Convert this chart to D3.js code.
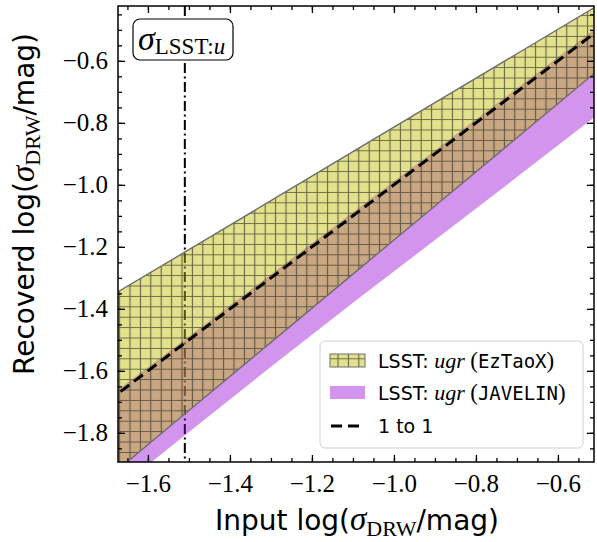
<!DOCTYPE html>
<html>
<head>
<meta charset="utf-8">
<script src="https://cdn.jsdelivr.net/npm/d3@7"></script>
<style>
  body { margin: 0; background: #fff; }
  text { fill: #000; }
</style>
</head>
<body>
<svg id="chart" width="597" height="542"></svg>
<script>
// values
const xGrid = [-1.7, -1.5, -1.3, -1.1, -0.9, -0.7, -0.5];
const eztaoUpper = [-1.366, -1.209, -1.051, -0.893, -0.735, -0.577, -0.419];
const eztaoLower = [-1.948, -1.728, -1.508, -1.288, -1.068, -0.848, -0.628];
const javelinUpper = [-1.688, -1.488, -1.288, -1.088, -0.888, -0.688, -0.488];
const javelinLower = [-2.010, -1.797, -1.587, -1.380, -1.178, -0.975, -0.770];
const oneToOne = [-1.7, -0.5];
const sigmaLsstU = -1.51;
const xTicks = [-1.6, -1.4, -1.2, -1.0, -0.8, -0.6];
const yTicks = [-1.8, -1.6, -1.4, -1.2, -1.0, -0.8, -0.6];

const svg = d3.select('#chart');
const pLeft = 118, pRight = 594, pTop = 6, pBottom = 462;

const x = d3.scaleLinear().domain([-1.673, -0.512]).range([pLeft, pRight]);
const y = d3.scaleLinear().domain([-1.894, -0.423]).range([pBottom, pTop]);

const defs = svg.append('defs');
defs.append('clipPath').attr('id', 'plotclip')
  .append('rect')
  .attr('x', pLeft).attr('y', pTop)
  .attr('width', pRight - pLeft).attr('height', pBottom - pTop);

const hatch = defs.append('pattern')
  .attr('id', 'hatch')
  .attr('patternUnits', 'userSpaceOnUse')
  .attr('width', 10.4).attr('height', 10.4);
hatch.append('path')
  .attr('d', 'M5.2,0V10.4M0,5.2H10.4')
  .attr('stroke', '#3a3a30')
  .attr('stroke-opacity', 0.72)
  .attr('stroke-width', 1.15);

const band = (lo, hi) => d3.area()
  .x((d, i) => x(xGrid[i]))
  .y0((d, i) => y(lo[i]))
  .y1((d, i) => y(hi[i]))(xGrid);

const plot = svg.append('g').attr('clip-path', 'url(#plotclip)');

// vertical sigma line (under the bands)
plot.append('line')
  .attr('x1', x(sigmaLsstU)).attr('x2', x(sigmaLsstU))
  .attr('y1', pTop).attr('y2', pBottom)
  .attr('stroke', '#000')
  .attr('stroke-width', 2)
  .attr('stroke-dasharray', '10,3.5,2,3.5');

// JAVELIN band
plot.append('path')
  .attr('d', band(javelinLower, javelinUpper))
  .attr('fill', 'darkviolet')
  .attr('fill-opacity', 0.42);

// EzTaoX band
plot.append('path')
  .attr('d', band(eztaoLower, eztaoUpper))
  .attr('fill', '#bfbf00')
  .attr('fill-opacity', 0.45);
plot.append('path')
  .attr('d', band(eztaoLower, eztaoUpper))
  .attr('fill', 'url(#hatch)');
plot.append('path')
  .attr('d', band(eztaoLower, eztaoUpper))
  .attr('fill', 'none')
  .attr('stroke', '#6e6e6e')
  .attr('stroke-width', 1.4);

// 1 to 1 line
plot.append('line')
  .attr('x1', x(oneToOne[0])).attr('y1', y(oneToOne[0]))
  .attr('x2', x(oneToOne[1])).attr('y2', y(oneToOne[1]))
  .attr('stroke', '#000')
  .attr('stroke-width', 3)
  .attr('stroke-dasharray', '11,6');

// axes
const fmt = d3.format('.1f');
const xMinor = d3.range(-33, -10).map(d => d * 0.05).filter(d => d >= -1.673 && d <= -0.512);
const yMinor = d3.range(-37, -8).map(d => d * 0.05).filter(d => d >= -1.894 && d <= -0.423);

function styleTicks(g) {
  g.select('.domain').remove();
  g.selectAll('line').attr('stroke', '#000').attr('stroke-width', 1.3);
  g.selectAll('text')
    .style('font-family', '"Liberation Serif", serif')
    .style('font-size', '25px');
}

svg.append('g').attr('transform', `translate(0,${pBottom})`)
  .call(d3.axisBottom(x).tickValues(xTicks).tickSize(-7).tickPadding(12).tickFormat(fmt))
  .call(styleTicks);
svg.append('g').attr('transform', `translate(0,${pBottom})`)
  .call(d3.axisBottom(x).tickValues(xMinor).tickSize(-4).tickFormat(''))
  .call(styleTicks);
svg.append('g').attr('transform', `translate(0,${pTop})`)
  .call(d3.axisTop(x).tickValues(xTicks).tickSize(-7).tickFormat(''))
  .call(styleTicks);
svg.append('g').attr('transform', `translate(0,${pTop})`)
  .call(d3.axisTop(x).tickValues(xMinor).tickSize(-4).tickFormat(''))
  .call(styleTicks);

svg.append('g').attr('transform', `translate(${pLeft},0)`)
  .call(d3.axisLeft(y).tickValues(yTicks).tickSize(-7).tickPadding(10).tickFormat(fmt))
  .call(styleTicks);
svg.append('g').attr('transform', `translate(${pLeft},0)`)
  .call(d3.axisLeft(y).tickValues(yMinor).tickSize(-4).tickFormat(''))
  .call(styleTicks);
svg.append('g').attr('transform', `translate(${pRight},0)`)
  .call(d3.axisRight(y).tickValues(yTicks).tickSize(-7).tickFormat(''))
  .call(styleTicks);
svg.append('g').attr('transform', `translate(${pRight},0)`)
  .call(d3.axisRight(y).tickValues(yMinor).tickSize(-4).tickFormat(''))
  .call(styleTicks);

// frame
svg.append('rect')
  .attr('x', pLeft).attr('y', pTop)
  .attr('width', pRight - pLeft).attr('height', pBottom - pTop)
  .attr('fill', 'none').attr('stroke', '#000').attr('stroke-width', 1.5);

// axis labels
const sans = '"DejaVu Sans", sans-serif';
const serif = '"Liberation Serif", serif';
function axisLabel(g, lead) {
  const t = g.append('text').attr('text-anchor', 'middle')
    .style('font-family', sans).style('font-size', '28px');
  t.append('tspan').text(lead + ' log(');
  t.append('tspan').style('font-family', serif).style('font-style', 'italic')
    .style('font-size', '33px').text('σ');
  t.append('tspan').style('font-family', serif).style('font-size', '22px')
    .attr('dy', 6).text('DRW');
  t.append('tspan').attr('dy', -6).text('/mag)');
  return t;
}
axisLabel(svg.append('g').attr('transform', 'translate(357,530)'), 'Input');
axisLabel(svg.append('g').attr('transform', 'translate(34,204) rotate(-90)'), 'Recoverd');

// sigma LSST:u label
svg.append('rect')
  .attr('x', 133).attr('y', 19).attr('width', 100).attr('height', 41)
  .attr('rx', 7).attr('fill', '#fff').attr('stroke', '#000').attr('stroke-width', 1.2);
const lab = svg.append('text').attr('x', 138).attr('y', 50)
  .style('font-family', serif);
lab.append('tspan').style('font-style', 'italic').style('font-size', '34px').text('σ');
lab.append('tspan').attr('dy', 4).style('font-size', '23px').text('LSST:');
lab.append('tspan').style('font-style', 'italic').style('font-size', '23px').text('u');

// legend
const mono = '"DejaVu Sans Mono", monospace';
const lg = svg.append('g');
lg.append('rect')
  .attr('x', 320).attr('y', 341).attr('width', 263).attr('height', 107)
  .attr('rx', 5).attr('fill', '#fff').attr('fill-opacity', 0.85)
  .attr('stroke', '#d0d0d0').attr('stroke-width', 1);

function legendText(yy, code) {
  const t = lg.append('text').attr('x', 378).attr('y', yy)
    .style('font-family', sans).style('font-size', '19px');
  t.append('tspan').text('LSST:');
  t.append('tspan').style('font-family', serif).style('font-style', 'italic')
    .style('font-size', '22px').text(' ugr ');
  t.append('tspan').style('font-family', serif).style('font-size', '23px').text('(');
  t.append('tspan').style('font-family', mono).style('font-size', '19px').text(code);
  t.append('tspan').style('font-family', serif).style('font-size', '23px').text(')');
}

lg.append('rect').attr('x', 330).attr('y', 354).attr('width', 35).attr('height', 13)
  .attr('fill', '#bfbf00').attr('fill-opacity', 0.45);
lg.append('rect').attr('x', 330).attr('y', 354).attr('width', 35).attr('height', 13)
  .attr('fill', 'url(#hatch)').attr('stroke', '#6e6e6e').attr('stroke-width', 1);
legendText(368, 'EzTaoX');

lg.append('rect').attr('x', 330).attr('y', 386).attr('width', 35).attr('height', 13)
  .attr('fill', 'darkviolet').attr('fill-opacity', 0.42);
legendText(400, 'JAVELIN');

lg.append('line').attr('x1', 331).attr('x2', 365).attr('y1', 426).attr('y2', 426)
  .attr('stroke', '#000').attr('stroke-width', 3).attr('stroke-dasharray', '11,6');
lg.append('text').attr('x', 378).attr('y', 433)
  .style('font-family', sans).style('font-size', '19px').text('1 to 1');
</script>
</body>
</html>
